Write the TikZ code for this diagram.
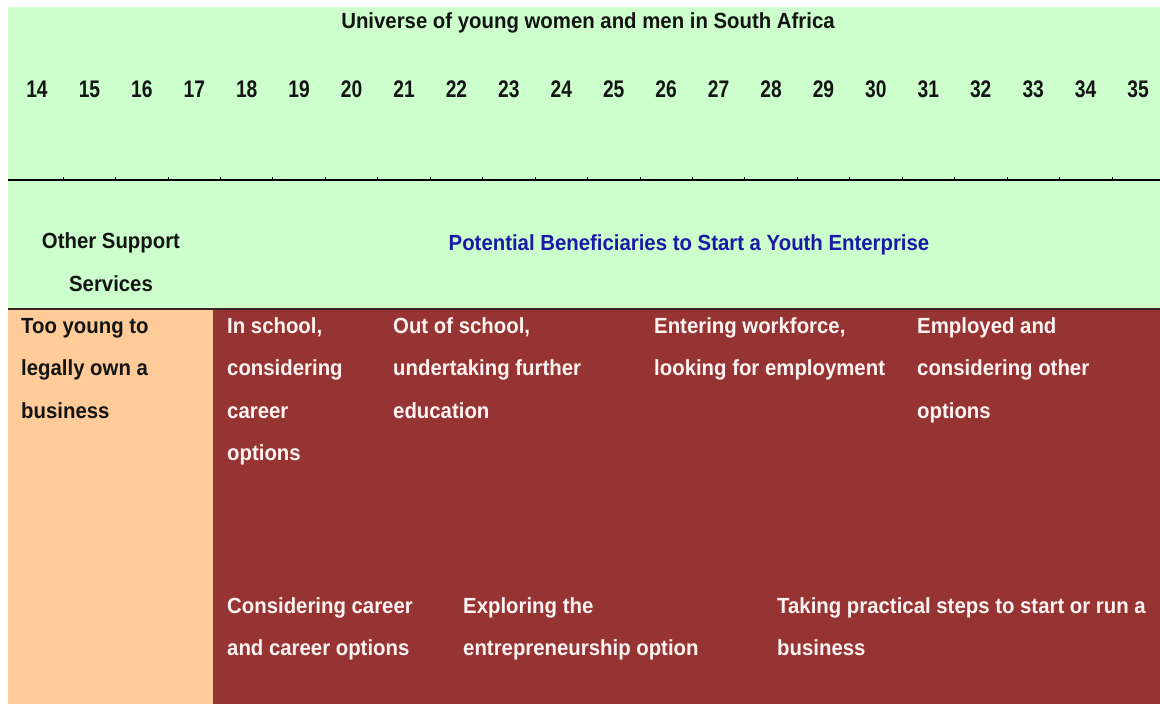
\documentclass[tikz,border=0pt]{standalone}
\usepackage{fontspec}
\setmainfont{Liberation Sans}[FakeStretch=0.93]
\newfontfamily\agefont{Liberation Sans}[FakeStretch=0.8]
\definecolor{bggreen}{HTML}{CCFFCC}
\definecolor{bgorange}{HTML}{FFCC99}
\definecolor{bgbrown}{HTML}{963434}
\definecolor{titleblue}{HTML}{1A1AA6}
\definecolor{darktext}{HTML}{141414}
\definecolor{lighttext}{HTML}{FFF4F2}
\definecolor{edgeline}{HTML}{3A2424}
\newcommand{\blk}[2]{\begin{tabular}[t]{@{}#1@{}}#2\end{tabular}}
\tikzset{
  txt/.style={inner sep=0pt, anchor=base west, font=\fontsize{21.9}{42.5}\selectfont\bfseries},
  darktxt/.style={txt, text=darktext},
  lighttxt/.style={txt, text=lighttext},
  num/.style={inner sep=0pt, anchor=base, text=darktext, font=\agefont\fontsize{24}{26}\selectfont\bfseries},
  tick/.style={draw=black, line width=0.8pt},
  axisline/.style={draw=black, line width=1.2pt}
}
\begin{document}
\begin{tikzpicture}[x=1pt,y=-1pt]
\useasboundingbox (0,0) rectangle (1160,704);
% backgrounds
\fill[bggreen] (8,7) rectangle (1160,309);
\fill[bgorange] (8,309) rectangle (213,704);
\fill[bgbrown] (213,309) rectangle (1160,704);
\draw[edgeline, line width=1.2pt] (8,309) -- (1160,309);
% axis line with ticks
\coordinate (axL) at (8,180);
\coordinate (axR) at (1160,180);
\draw[axisline] (axL) -- (axR);
\foreach \k in {0,...,20} {
  \coordinate (tk\k) at ({63+52.45*\k},177);
  \draw[tick] (tk\k) -- ++(0,4);
}
% title
\node[darktxt, anchor=base] (title) at (588,28) {Universe of young women and men in South Africa};
% ages
\foreach \n [count=\i from 0] in {14,...,35} {
  \node[num] (age\n) at ({37+52.43*\i},97) {\n};
}
% second band
\node[darktxt, anchor=base] (other) at (111,248) {\blk{c}{Other Support\\[0.5pt]Services}};
\node[txt, anchor=base, text=titleblue] (potential) at (689,250) {Potential Beneficiaries to Start a Youth Enterprise};
% first row of stages
\node[darktxt] (young) at (21,333) {\blk{l}{Too young to\\legally own a\\business}};
\node[lighttxt] (school) at (227,333) {\blk{l}{In school,\\considering\\career\\options}};
\node[lighttxt] (outschool) at (393,333) {\blk{l}{Out of school,\\undertaking further\\education}};
\node[lighttxt] (entering) at (654,333) {\blk{l}{Entering workforce,\\looking for employment}};
\node[lighttxt] (employed) at (917,333) {\blk{l}{Employed and\\considering other\\options}};
% second row of stages
\node[lighttxt] (considering) at (227,613) {\blk{l}{Considering career\\and career options}};
\node[lighttxt] (exploring) at (463,613) {\blk{l}{Exploring the\\entrepreneurship option}};
\node[lighttxt] (taking) at (777,613) {\blk{l}{Taking practical steps to start or run a\\business}};
\end{tikzpicture}
\end{document}
